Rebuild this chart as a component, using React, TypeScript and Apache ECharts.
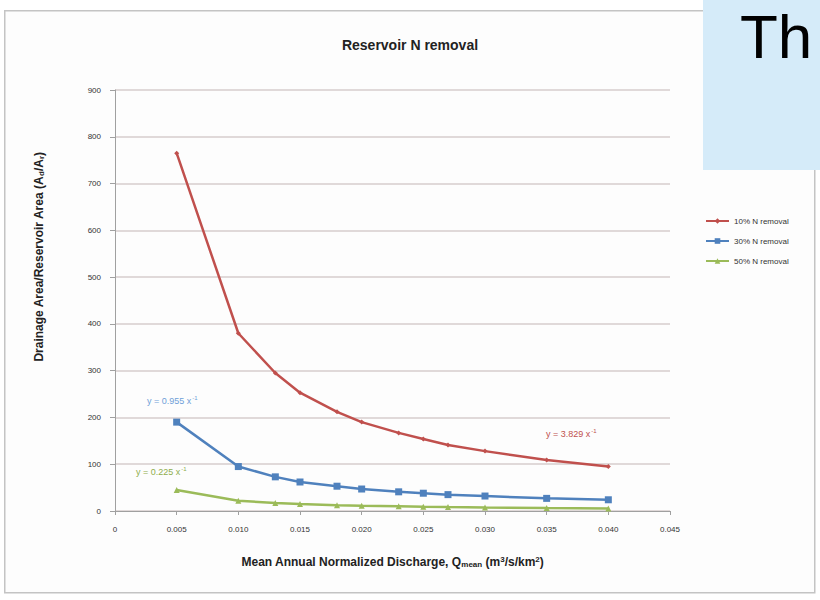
import React, { useEffect, useRef } from "react";
import * as echarts from "echarts";

const discharge = [0.005, 0.010, 0.013, 0.015, 0.018, 0.020, 0.023, 0.025, 0.027, 0.030, 0.035, 0.040];
const removal10 = [765, 380, 295, 253, 212, 190, 167, 154, 141, 128, 109, 95];
const removal30 = [190, 95, 73, 62, 53, 47, 41, 38, 35, 32, 27, 24];
const removal50 = [45, 22, 17, 15, 12.5, 11, 10, 9, 8.3, 7.5, 6.4, 5.6];
const seriesNames = ["10% N removal", "30% N removal", "50% N removal"];
const fitLabels = ["y = 3.829 x", "y = 0.955 x", "y = 0.225 x"];

const pair = (ys: number[]) => discharge.map((x, i) => [x, ys[i]]);

const RED = "#c0504d";
const BLUE = "#4f81bd";
const GREEN = "#9bbb59";
const FONT = "'Liberation Sans', Arial, sans-serif";

export default function App() {
  const ref = useRef<HTMLDivElement>(null);
  useEffect(() => {
    if (!ref.current) return;
    const chart = echarts.init(ref.current, undefined, { renderer: "svg" });
    const eq = (txt: string, color: string, x: number, y: number) => ({
      type: "text",
      left: x,
      top: y,
      z: 10,
      style: {
        text: txt + "{sup|-1}",
        fill: color,
        font: `9px ${FONT}`,
        rich: { sup: { fontSize: 6, verticalAlign: "top", fill: color, padding: [0, 0, 5, 1] } },
      },
    });
    chart.setOption({
      animation: false,
      backgroundColor: "#ffffff",
      textStyle: { fontFamily: FONT },
      title: {
        text: "Reservoir N removal",
        left: 405,
        top: 33,
        textAlign: "center",
        textStyle: { fontSize: 14, fontWeight: "bold", color: "#222" },
      },
      grid: { left: 115, top: 90, right: 150, bottom: 89 },
      legend: {
        orient: "vertical",
        left: 700,
        top: 212,
        itemGap: 12,
        itemWidth: 23,
        itemHeight: 7,
        textStyle: { fontSize: 8, color: "#333" },
        data: seriesNames,
      },
      xAxis: {
        type: "value",
        min: 0,
        max: 0.045,
        interval: 0.005,
        axisLine: { show: true, lineStyle: { color: "#a0a0a0" } },
        axisTick: { show: true, length: 4, lineStyle: { color: "#a0a0a0" } },
        axisLabel: {
          fontSize: 8,
          color: "#333",
          margin: 14,
          formatter: (v: number) => (v === 0 ? "0" : v.toFixed(3)),
        },
        splitLine: { show: false },
        name: "Mean Annual Normalized Discharge, Q{sub|mean} (m{sup|3}/s/km{sup|2})",
        nameLocation: "middle",
        nameGap: 44,
        nameTextStyle: {
          fontSize: 12,
          fontWeight: "bold",
          color: "#222",
          rich: {
            sub: { fontSize: 8, fontWeight: "bold", verticalAlign: "bottom", padding: [5, 0, 0, 0], color: "#222" },
            sup: { fontSize: 8, fontWeight: "bold", verticalAlign: "top", padding: [0, 0, 5, 0], color: "#222" },
          },
        },
      },
      yAxis: {
        type: "value",
        min: 0,
        max: 900,
        interval: 100,
        axisLine: { show: true, lineStyle: { color: "#a0a0a0" } },
        axisTick: { show: true, length: 5, lineStyle: { color: "#a0a0a0" } },
        axisLabel: { fontSize: 8, color: "#333", margin: 14 },
        splitLine: { show: true, lineStyle: { color: "#d6cccc", width: 1.5 } },
      },
      series: [
        {
          name: seriesNames[0],
          type: "line",
          data: pair(removal10),
          symbol: "diamond",
          symbolSize: 5,
          lineStyle: { color: RED, width: 2.5 },
          itemStyle: { color: RED },
        },
        {
          name: seriesNames[1],
          type: "line",
          data: pair(removal30),
          symbol: "rect",
          symbolSize: 7,
          lineStyle: { color: BLUE, width: 2.5 },
          itemStyle: { color: BLUE },
        },
        {
          name: seriesNames[2],
          type: "line",
          data: pair(removal50),
          symbol: "triangle",
          symbolSize: 6,
          lineStyle: { color: GREEN, width: 2.5 },
          itemStyle: { color: GREEN },
        },
      ],
      graphic: [
        {
          type: "rect",
          left: 4,
          top: 10,
          z: -10,
          shape: { width: 810, height: 582 },
          style: { fill: "#fdfdfd", stroke: "#c4c4c4", lineWidth: 1.5 },
        },
        {
          type: "text",
          x: 39,
          y: 257,
          rotation: Math.PI / 2,
          z: 10,
          style: {
            text: "Drainage Area/Reservoir Area (A{sub|d}/A{sub|r})",
            font: `bold 12px ${FONT}`,
            fill: "#222",
            align: "center",
            verticalAlign: "middle",
            rich: {
              sub: { fontSize: 8, fontWeight: "bold", verticalAlign: "bottom", padding: [5, 0, 0, 0], fill: "#222" },
            },
          },
        },
        eq(fitLabels[0], RED, 546, 428),
        eq(fitLabels[1], "#6f9fd8", 147, 395),
        eq(fitLabels[2], "#8fad4c", 136, 466),
        {
          type: "rect",
          left: 703,
          top: 0,
          z: 20,
          shape: { width: 117, height: 170 },
          style: { fill: "#d5ebf9" },
        },
        {
          type: "text",
          left: 740,
          top: 5,
          z: 21,
          style: { text: "Th", font: `62px ${FONT}`, fill: "#000" },
        },
      ],
    });
    return () => chart.dispose();
  }, []);
  return (
    <div
      ref={ref}
      style={{ position: "absolute", left: 0, top: 0, width: 820, height: 600 }}
    />
  );
}
